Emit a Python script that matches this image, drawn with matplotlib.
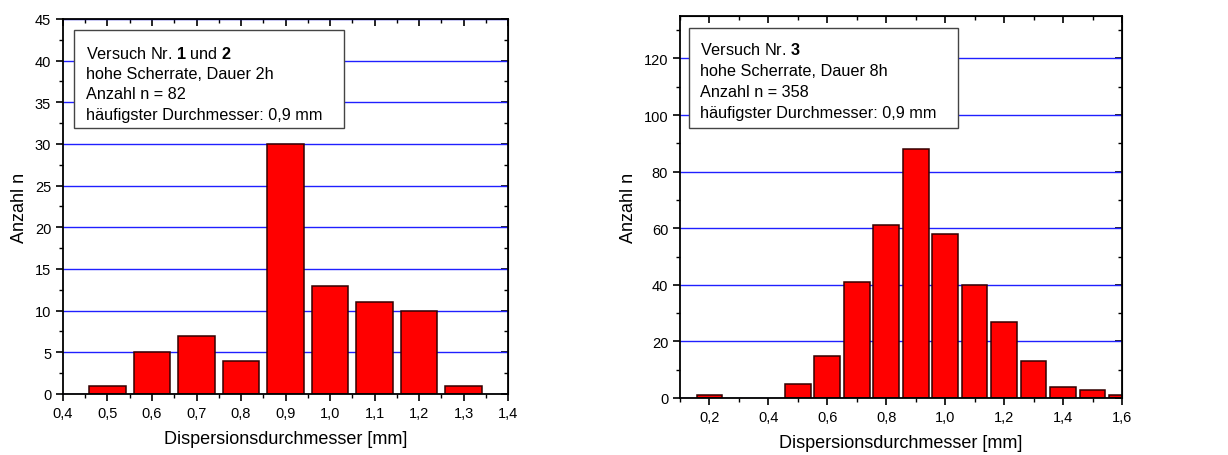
import matplotlib
matplotlib.use("Agg")
import matplotlib.pyplot as plt
from matplotlib.ticker import MultipleLocator, FuncFormatter
from matplotlib.patches import Rectangle

plt.rcParams["font.family"] = ["Liberation Sans", "DejaVu Sans"]
plt.rcParams["mathtext.fontset"] = "custom"
plt.rcParams["mathtext.rm"] = "Liberation Sans"
plt.rcParams["mathtext.bf"] = "Liberation Sans:bold"

# Versuch 1 und 2
d_left = [0.5, 0.6, 0.7, 0.8, 0.9, 1.0, 1.1, 1.2, 1.3]
n_left = [1, 5, 7, 4, 30, 13, 11, 10, 1]

# Versuch 3
d_right = [0.2, 0.5, 0.6, 0.7, 0.8, 0.9, 1.0, 1.1, 1.2, 1.3, 1.4, 1.5, 1.6]
n_right = [1, 5, 15, 41, 61, 88, 58, 40, 27, 13, 4, 3, 1]

text_left = [r"Versuch Nr. $\mathbf{1}$ und $\mathbf{2}$",
             "hohe Scherrate, Dauer 2h",
             "Anzahl n = 82",
             "häufigster Durchmesser: 0,9 mm"]
text_right = [r"Versuch Nr. $\mathbf{3}$",
              "hohe Scherrate, Dauer 8h",
              "Anzahl n = 358",
              "häufigster Durchmesser: 0,9 mm"]

comma = FuncFormatter(lambda v, p: f"{v:.1f}".replace(".", ","))


def draw(ax, d, n, xlim, ylim, xmaj, xmin, ymaj, ymin, lines, box, tx, ty, width):
    ax.bar(d, n, width=width, color="#ff0000", edgecolor="#330000", linewidth=1.1,
           zorder=2)
    ax.set_xlim(*xlim)
    ax.set_ylim(*ylim)
    ax.set_axisbelow(True)
    ax.yaxis.grid(True, which="major", color="#2020ff", linewidth=1.0, zorder=0)
    ax.xaxis.set_major_locator(MultipleLocator(xmaj))
    ax.xaxis.set_minor_locator(MultipleLocator(xmin))
    ax.yaxis.set_major_locator(MultipleLocator(ymaj))
    ax.yaxis.set_minor_locator(MultipleLocator(ymin))
    ax.xaxis.set_major_formatter(comma)
    ax.tick_params(which="major", direction="out", length=5, width=1.2, labelsize=10.5,
                   colors="black")
    ax.tick_params(which="minor", direction="out", length=3, width=1.0)
    for s in ax.spines.values():
        s.set_linewidth(1.3)

    # mirrored ticks on top/right pointing inwards
    top = ax.secondary_xaxis("top")
    top.xaxis.set_major_locator(MultipleLocator(xmaj))
    top.xaxis.set_minor_locator(MultipleLocator(xmin))
    top.tick_params(which="major", direction="in", length=5, width=1.2, labeltop=False)
    top.tick_params(which="minor", direction="in", length=3, width=1.0)
    right = ax.secondary_yaxis("right")
    right.yaxis.set_major_locator(MultipleLocator(ymaj))
    right.yaxis.set_minor_locator(MultipleLocator(ymin))
    right.tick_params(which="major", direction="in", length=5, width=1.2, labelright=False)
    right.tick_params(which="minor", direction="in", length=3, width=1.0)

    ax.set_xlabel("Dispersionsdurchmesser [mm]", fontsize=13, labelpad=7)
    ax.set_ylabel("Anzahl n", fontsize=13, labelpad=5)

    x0, y0, x1, y1 = box
    ax.add_patch(Rectangle((x0, y0), x1 - x0, y1 - y0, transform=ax.transAxes,
                           facecolor="white", edgecolor="#444444", linewidth=1.0,
                           zorder=5))
    for i, line in enumerate(lines):
        ax.text(tx, ty - i * 0.055, line, transform=ax.transAxes, fontsize=11.7,
                va="center", ha="left", zorder=6)


fig = plt.figure(figsize=(12.28, 4.56), dpi=100)
ax1 = fig.add_axes([0.0513, 0.1338, 0.3624, 0.8224])
ax2 = fig.add_axes([0.5537, 0.125, 0.36, 0.8377])

draw(ax1, d_left, n_left, (0.4, 1.4), (0, 45), 0.1, 0.05, 5, 2.5, text_left,
     (0.025, 0.709, 0.631, 0.971), 0.052, 0.91, 0.082)
ax1.yaxis.set_major_formatter(FuncFormatter(lambda v, p: f"{v:.0f}"))

draw(ax2, d_right, n_right, (0.1, 1.6), (0, 135), 0.2, 0.1, 20, 10, text_right,
     (0.020, 0.707, 0.629, 0.969), 0.045, 0.913, 0.087)
ax2.yaxis.set_major_formatter(FuncFormatter(lambda v, p: f"{v:.0f}"))

fig.savefig("out.png", dpi=100)
